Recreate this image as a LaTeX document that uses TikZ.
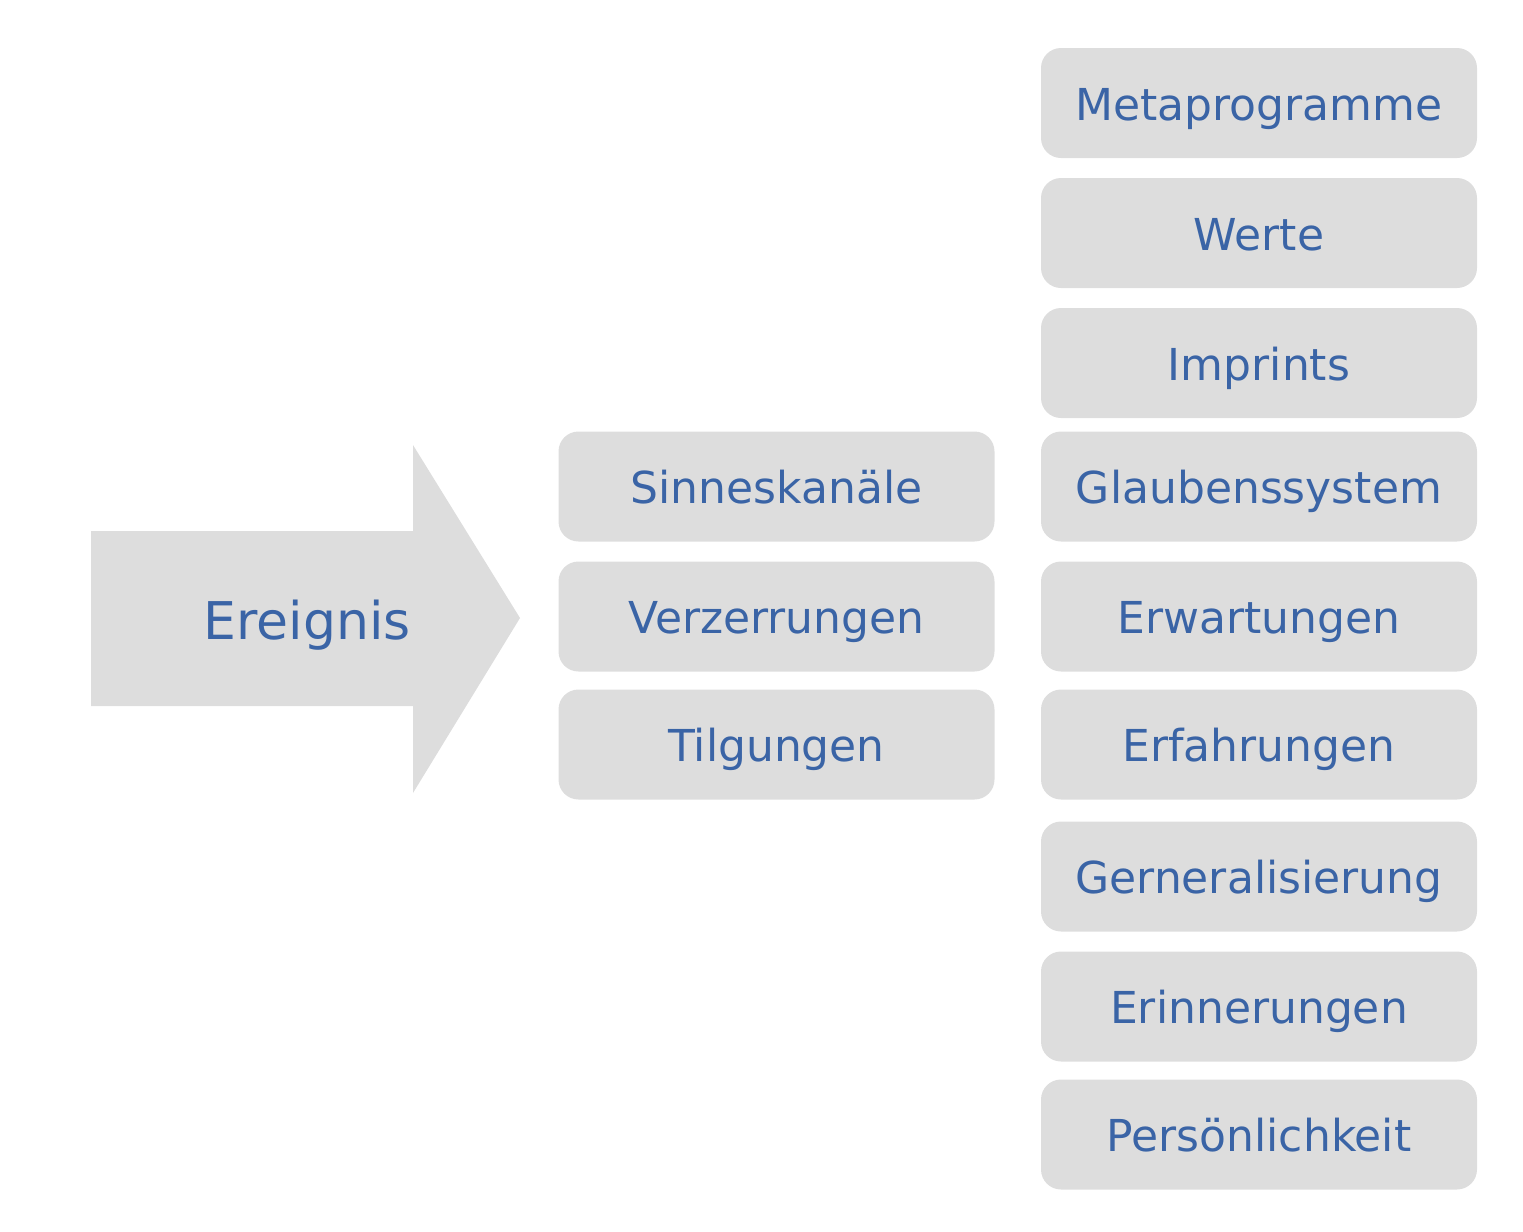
\documentclass[tikz,border=0pt]{standalone}
\usepackage{fontspec}
\setmainfont{DejaVu Sans}
\definecolor{boxgray}{HTML}{DDDDDD}
\definecolor{textblue}{HTML}{3A64A6}
\begin{document}
\begin{tikzpicture}[x=0.5pt,y=-0.5pt,
  main box/.style={rectangle,rounded corners=10pt,fill=boxgray,text=textblue,
    minimum width=218pt,minimum height=55pt,inner sep=0pt,outer sep=0pt,
    text height=17pt,text depth=0pt,font=\fontsize{22}{26}\selectfont}]

  \useasboundingbox (0,0) rectangle (1523,1232);

  % arrow
  \fill[boxgray] (91,531) -- (413,531) -- (413,445) -- (520,618)
    -- (413,793) -- (413,706) -- (91,706) -- cycle;
  \node[text=textblue,inner sep=0pt,text height=21pt,text depth=0pt,
    font=\fontsize{26}{30}\selectfont] (ereignis) at (307,618) {Ereignis};

  % middle column
  \node[main box] (sinne) at (776.5,486.5) {Sinneskanäle};
  \node[main box] (verz) at (776.5,616.5) {Verzerrungen};
  \node[main box] (tilg) at (776.5,744.5) {Tilgungen};

  % right column
  \node[main box] (meta) at (1259,103) {Metaprogramme};
  \node[main box] (werte) at (1259,233) {Werte};
  \node[main box] (impr) at (1259,363) {Imprints};
  \node[main box] (glaub) at (1259,486.5) {Glaubenssystem};
  \node[main box] (erw) at (1259,616.5) {Erwartungen};
  \node[main box] (erf) at (1259,744.5) {Erfahrungen};
  \node[main box] (gen) at (1259,876.5) {Gerneralisierung};
  \node[main box] (erinn) at (1259,1006.5) {Erinnerungen};
  \node[main box] (pers) at (1259,1134.5) {Persönlichkeit};
\end{tikzpicture}
\end{document}
